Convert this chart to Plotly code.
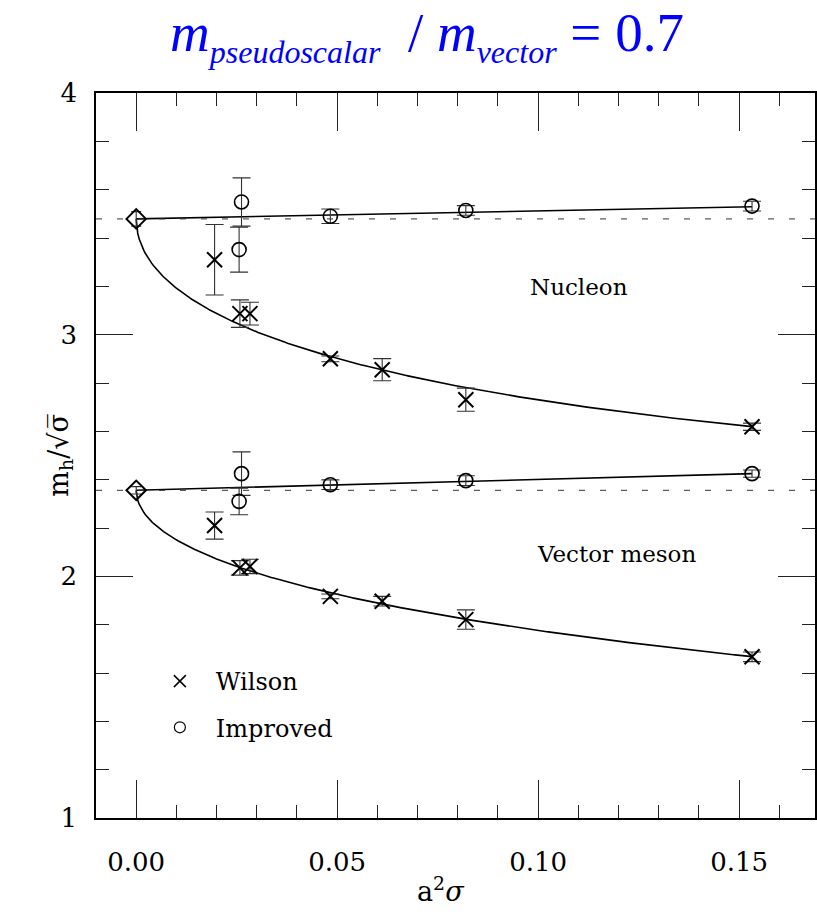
import numpy as np
import plotly.graph_objects as go

# ---- data: hadron masses in units of sqrt(sigma) vs a^2 sigma ----
# Nucleon, Wilson action
nuc_w_x = [0.0195, 0.0258, 0.0283, 0.0483, 0.0612, 0.0820, 0.1532]
nuc_w_y = [3.310, 3.087, 3.087, 2.900, 2.855, 2.731, 2.619]
nuc_w_err = [0.146, 0.057, 0.047, 0.012, 0.046, 0.048, 0.015]

# Nucleon, improved action
nuc_i_x = [0.0262, 0.0256, 0.0483, 0.0820, 0.1532]
nuc_i_y = [3.549, 3.352, 3.490, 3.514, 3.532]
nuc_i_err = [0.100, 0.093, 0.030, 0.020, 0.020]

# Vector meson, Wilson action
vec_w_x = [0.0195, 0.0258, 0.0283, 0.0483, 0.0612, 0.0820, 0.1532]
vec_w_y = [2.210, 2.035, 2.041, 1.917, 1.897, 1.821, 1.667]
vec_w_err = [0.056, 0.030, 0.030, 0.010, 0.020, 0.040, 0.020]

# Vector meson, improved action
vec_i_x = [0.0262, 0.0256, 0.0483, 0.0820, 0.1532]
vec_i_y = [2.425, 2.310, 2.379, 2.396, 2.425]
vec_i_err = [0.090, 0.055, 0.020, 0.020, 0.015]

# continuum limits (a^2 sigma = 0)
cont_x = [0.0, 0.0]
cont_y = [3.479, 2.356]
cont_err = [0.030, 0.015]

# fit parameters: Wilson  m = c0 + c1*sqrt(x) + c2*x ; improved  m = c0 + d1*x
nuc_w_fit = (3.479, -3.097, 2.303)
vec_w_fit = (2.356, -2.150, 1.000)
nuc_i_fit = (3.479, 0.33)
vec_i_fit = (2.356, 0.45)
fit_xmax = 0.1532

SERIF = "DejaVu Serif"
W, H = 817, 912
ML, MR, MT, MB = 96, 0, 93, 94

fig = go.Figure()

# fit curves
xs = np.linspace(0.0, fit_xmax, 400)
for c0, c1, c2 in (nuc_w_fit, vec_w_fit):
    fig.add_trace(go.Scatter(x=xs, y=c0 + c1 * np.sqrt(xs) + c2 * xs, mode="lines",
                             line=dict(color="black", width=1.6), showlegend=False,
                             hoverinfo="skip"))
for c0, d1 in (nuc_i_fit, vec_i_fit):
    xl = np.array([0.0, fit_xmax])
    fig.add_trace(go.Scatter(x=xl, y=c0 + d1 * xl, mode="lines",
                             line=dict(color="black", width=1.6), showlegend=False,
                             hoverinfo="skip"))

def err(arr, w=9):
    return dict(type="data", array=arr, visible=True, color="#333", thickness=1.1, width=w)

wilson_marker = dict(symbol="x-thin-open", size=15, color="black", line=dict(color="black", width=2))
impr_marker = dict(symbol="circle-open", size=14, color="black", line=dict(color="#222", width=1.6))

for x, y, e in ((nuc_w_x, nuc_w_y, nuc_w_err), (vec_w_x, vec_w_y, vec_w_err)):
    fig.add_trace(go.Scatter(x=x, y=y, mode="markers", marker=wilson_marker,
                             error_y=err(e), showlegend=False))
for x, y, e in ((nuc_i_x, nuc_i_y, nuc_i_err), (vec_i_x, vec_i_y, vec_i_err)):
    fig.add_trace(go.Scatter(x=x, y=y, mode="markers", marker=impr_marker,
                             error_y=err(e), showlegend=False))

fig.add_trace(go.Scatter(x=cont_x, y=cont_y, mode="markers",
                         marker=dict(symbol="diamond-open", size=15, color="black",
                                     line=dict(color="black", width=2)),
                         error_y=err(cont_err, 5), showlegend=False))

# legend entries
fig.add_trace(go.Scatter(x=[None], y=[None], mode="markers", name="Wilson", legendgroup="w",
                         marker=dict(symbol="x-thin-open", size=12, color="black",
                                     line=dict(color="black", width=1.5))))
fig.add_trace(go.Scatter(x=[None], y=[None], mode="markers", name="Improved", legendgroup="i",
                         marker=dict(symbol="circle-open", size=11, color="black",
                                     line=dict(color="black", width=1.2))))

# dashed continuum reference lines
for yc in cont_y:
    fig.add_shape(type="line", xref="paper", x0=0, x1=1, yref="y", y0=yc, y1=yc,
                  line=dict(color="#333", width=1, dash="6px,15px"))

pw = W - ML - MR
ph = H - MT - MB

def px(xp):
    return (xp - ML) / pw

def py(yp):
    return 1 - (yp - MT) / ph

fig.add_annotation(x=0.1101, y=3.199, text="Nucleon", showarrow=False,
                   font=dict(family=SERIF, size=23, color="black"))
fig.add_annotation(x=0.1196, y=2.094, text="Vector meson", showarrow=False,
                   font=dict(family=SERIF, size=23, color="black"))

# title
fig.add_annotation(xref="paper", yref="paper", x=px(428), y=py(36), yanchor="middle",
                   showarrow=False,
                   text=("<i>m</i><sub><i><span style='font-size:32px'>pseudoscalar</span></i></sub>"
                         "  / <i>m</i><sub><i><span style='font-size:32px'>vector</span></i></sub>"
                         " = 0.7"),
                   font=dict(family="Liberation Serif", size=55, color="#0000ff"))

# axis titles
fig.add_annotation(xref="paper", yref="paper", x=px(442), y=py(889), yanchor="middle",
                   showarrow=False,
                   text="a<sup>2</sup><i>σ</i>", font=dict(family=SERIF, size=27, color="black"))
fig.add_annotation(xref="paper", yref="paper", x=px(40), y=py(455), showarrow=False,
                   textangle=-90, text="m<sub>h</sub>/√σ̅",
                   font=dict(family=SERIF, size=27, color="black"))

axis_common = dict(showline=True, linecolor="black", linewidth=1.5, mirror="allticks",
                   showgrid=False, zeroline=False, ticks="inside", tickcolor="#222",
                   tickwidth=1, tickfont=dict(family=SERIF, size=26, color="black"))

fig.update_xaxes(range=[-0.01, -0.01 + pw / 4031.0], tickmode="linear", tick0=0, dtick=0.05,
                 tickformat=".2f", ticklen=38, ticklabelstandoff=20,
                 minor=dict(dtick=0.01, tick0=0, ticks="inside", ticklen=13,
                            tickcolor="#222", tickwidth=1),
                 **axis_common)
fig.update_yaxes(range=[1, 4], tickmode="linear", tick0=1, dtick=1, ticklen=37,
                 ticklabelstandoff=12,
                 minor=dict(dtick=0.2, tick0=1, ticks="inside", ticklen=13,
                            tickcolor="#222", tickwidth=1),
                 **axis_common)

fig.update_layout(width=W, height=H, margin=dict(l=ML, r=MR, t=MT, b=MB),
                  plot_bgcolor="white", paper_bgcolor="white",
                  showlegend=True,
                  legend=dict(x=px(144), y=py(659), xanchor="left", yanchor="top",
                              bgcolor="rgba(0,0,0,0)", itemwidth=62, tracegroupgap=12,
                              font=dict(family=SERIF, size=24, color="black")))

fig.write_html("out.html")
